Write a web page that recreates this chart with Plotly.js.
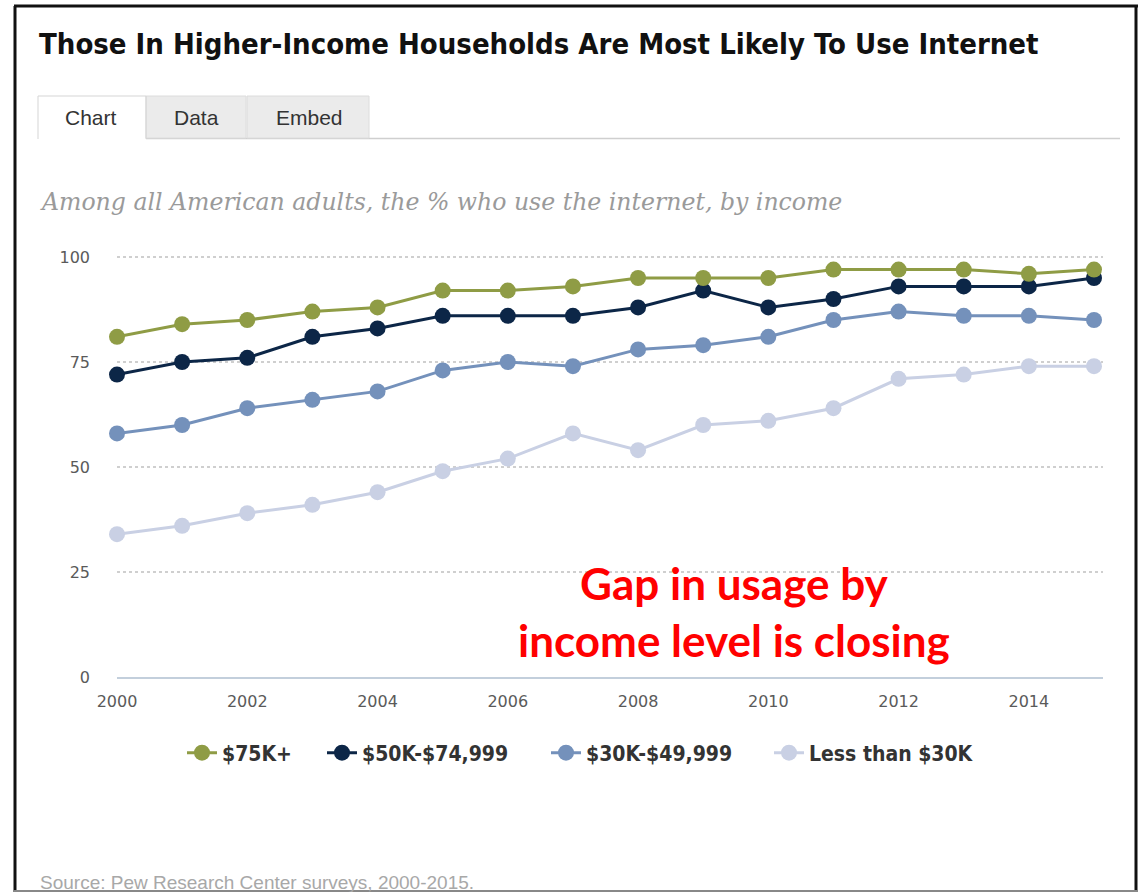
<!DOCTYPE html>
<html>
<head>
<meta charset="utf-8">
<script src="https://cdn.plot.ly/plotly-3.0.1.min.js"></script>
<style>html,body{margin:0;padding:0;background:#fff;}#chart{width:1142px;height:892px;}</style>
</head>
<body>
<div id="chart"></div>
<script>
const years = [2000,2001,2002,2003,2004,2005,2006,2007,2008,2009,2010,2011,2012,2013,2014,2015];
const seriesNames = ["$75K+", "$50K-$74,999", "$30K-$49,999", "Less than $30K"];
const inc75plus   = [81,84,85,87,88,92,92,93,95,95,95,97,97,97,96,97];
const inc50to75   = [72,75,76,81,83,86,86,86,88,92,88,90,93,93,93,95];
const inc30to50   = [58,60,64,66,68,73,75,74,78,79,81,85,87,86,86,85];
const incUnder30  = [34,36,39,41,44,49,52,58,54,60,61,64,71,72,74,74];
const yTicks = [0,25,50,75,100];
const xTicks = [2000,2002,2004,2006,2008,2010,2012,2014];
const colors = ["#8f9c45","#0c2647","#7491bb","#c9d0e4"];

// pixel -> paper helpers (plot area: x 117..1103, y 255..677)
const L=117, R=1103, T=255, B=677;
const px = x => (x-L)/(R-L);
const py = y => (B-y)/(B-T);

const legendIds = ['legend','legend2','legend3','legend4'];
const legendLeft = [182, 322, 546, 769];

const values = [inc75plus, inc50to75, inc30to50, incUnder30];
const traces = values.map((v,i)=>({
  x: years, y: v, name: seriesNames[i], type: 'scatter', mode: 'lines+markers',
  line: {color: colors[i], width: 3},
  marker: {color: colors[i], size: 16},
  legend: legendIds[i],
  cliponaxis: false, hoverinfo: 'skip'
}));
const order = [3,2,1,0];
const data = order.map(i=>traces[i]);

const shapes = [
  {type:'line', xref:'paper', yref:'paper', x0:px(14), x1:px(1138), y0:py(6), y1:py(6), line:{color:'#111', width:3}},
  {type:'line', xref:'paper', yref:'paper', x0:px(15), x1:px(15), y0:py(6), y1:py(892), line:{color:'#111', width:3}},
  {type:'line', xref:'paper', yref:'paper', x0:px(1136), x1:px(1136), y0:py(6), y1:py(892), line:{color:'#111', width:3}},
  {type:'line', xref:'paper', yref:'paper', x0:px(14), x1:px(1138), y0:py(891), y1:py(891), line:{color:'#888', width:2}},
  {type:'line', xref:'paper', yref:'paper', x0:px(146), x1:px(1120), y0:py(138.5), y1:py(138.5), line:{color:'#cfcfcf', width:1.5}},
  {type:'rect', xref:'paper', yref:'paper', x0:px(146), x1:px(246), y0:py(96), y1:py(138), fillcolor:'#ebebeb', line:{color:'#dcdcdc', width:1}},
  {type:'rect', xref:'paper', yref:'paper', x0:px(247), x1:px(369), y0:py(96), y1:py(138), fillcolor:'#ebebeb', line:{color:'#dcdcdc', width:1}},
  {type:'path', xref:'paper', yref:'paper',
   path:`M ${px(38)} ${py(139)} L ${px(38)} ${py(96)} L ${px(146)} ${py(96)} L ${px(146)} ${py(139)}`,
   line:{color:'#d5d5d5', width:1}}
];

const annotations = [
  {text:'<b>Those In Higher-Income Households Are Most Likely To Use Internet</b>', xref:'paper', yref:'paper',
   x:px(37), y:py(44), xanchor:'left', yanchor:'middle', showarrow:false,
   font:{family:'DejaVu Sans Condensed, sans-serif', size:29, color:'#111'}},
  {text:'Chart', xref:'paper', yref:'paper', x:px(91), y:py(117), xanchor:'center', yanchor:'middle', showarrow:false,
   font:{family:'Liberation Sans, sans-serif', size:21, color:'#333'}},
  {text:'Data', xref:'paper', yref:'paper', x:px(196), y:py(117), xanchor:'center', yanchor:'middle', showarrow:false,
   font:{family:'Liberation Sans, sans-serif', size:21, color:'#333'}},
  {text:'Embed', xref:'paper', yref:'paper', x:px(309), y:py(117), xanchor:'center', yanchor:'middle', showarrow:false,
   font:{family:'Liberation Sans, sans-serif', size:21, color:'#333'}},
  {text:'<i>Among all American adults, the % who use the internet, by income</i>', xref:'paper', yref:'paper',
   x:px(38), y:py(202), xanchor:'left', yanchor:'middle', showarrow:false,
   font:{family:'DejaVu Serif, serif', size:23.6, color:'#9a9a9a'}},
  {text:'<b>Gap in usage by<br>income level is closing</b>', xref:'paper', yref:'paper',
   x:px(734), y:py(611), xanchor:'center', yanchor:'middle', showarrow:false, align:'center',
   font:{family:'Lato, Open Sans, sans-serif', size:44, color:'#ff0000'}},
  {text:'Source: Pew Research Center surveys, 2000-2015.', xref:'paper', yref:'paper',
   x:px(38), y:py(882), xanchor:'left', yanchor:'middle', showarrow:false,
   font:{family:'Liberation Sans, Arial, sans-serif', size:19, color:'#a8a8a8'}}
];

const layout = {
  width:1142, height:892,
  margin:{l:L, r:1142-R, t:T, b:892-B, pad:0},
  paper_bgcolor:'#fff', plot_bgcolor:'#fff',
  showlegend:true,
  xaxis:{range:[2000, 2015 + (R-1094)/((1094-117)/15)], tickvals:xTicks, ticktext:xTicks.map(String),
    showgrid:false, zeroline:false, showline:true, linecolor:'#c3cfdc', linewidth:2,
    ticks:'', ticklabelstandoff:9,
    tickfont:{family:'DejaVu Sans, sans-serif', size:16, color:'#5a5a5a'}, fixedrange:true},
  yaxis:{range:[0, 100 + 2/4.2], tickvals:yTicks, ticktext:yTicks.map(String),
    showgrid:true, gridcolor:'#cfcfcf', griddash:'dot', gridwidth:1.5,
    zeroline:false, showline:false, ticks:'', ticklabelstandoff:26,
    tickfont:{family:'DejaVu Sans, sans-serif', size:16, color:'#5a5a5a'}, fixedrange:true},
  shapes: shapes,
  annotations: annotations
};
legendIds.forEach((id,i)=>{
  layout[id] = {orientation:'h', x:px(legendLeft[i]), xanchor:'left', y:py(753), yanchor:'middle',
    bgcolor:'rgba(0,0,0,0)',
    font:{family:'DejaVu Sans Condensed, sans-serif', size:21, color:'#333', weight:'bold'},
    itemwidth:30};
});

Plotly.newPlot('chart', data, layout, {displayModeBar:false, staticPlot:true});
</script>
</body>
</html>
